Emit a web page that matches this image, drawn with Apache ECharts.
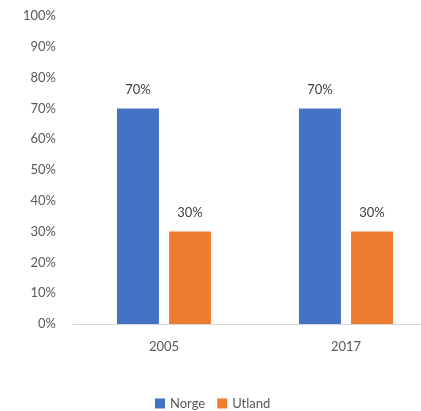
<!DOCTYPE html>
<html>
<head>
<meta charset="utf-8">
<script src="https://cdn.jsdelivr.net/npm/echarts@6/dist/echarts.min.js"></script>
<style>
  html, body { margin: 0; padding: 0; background: #fff; overflow: hidden; width: 421px; height: 411px; }
  #chart1 { width: 437px; height: 411px; }
</style>
</head>
<body>
<div id="chart1"></div>
<script>
const categories = ['2005', '2017'];
const norge = [70, 70];
const utland = [30, 30];
const colors = ['#4472C4', '#ED7D31'];

// the plot runs past the right edge of the picture, so the canvas is wider and clipped
var chartDom = document.getElementById('chart1');
var myChart1 = echarts.init(chartDom);

var labelStyle = {
    show: true,
    position: 'top',
    distance: 12,
    color: '#404040',
    fontSize: 13,
    fontFamily: 'Lato',
    formatter: function (p) {
        return p.value + '%';
    }
};

var option = {
    color: colors,
    animation: false,
    textStyle: { fontFamily: 'Lato' },
    legend: {
        data: ['Norge', 'Utland'],
        bottom: -4,
        left: 150,
        itemWidth: 10,
        itemHeight: 10,
        itemGap: 12,
        icon: 'rect',
        textStyle: { color: '#595959', fontSize: 13, fontFamily: 'Lato' }
    },
    grid: {
        left: 73,
        top: 16,
        right: 0,
        height: 308,
        containLabel: false
    },
    xAxis: {
        type: 'category',
        data: categories,
        axisLine: { show: true, lineStyle: { color: '#D9D9D9', width: 1 } },
        axisTick: { show: false },
        axisLabel: { color: '#595959', fontSize: 13, margin: 16, fontFamily: 'Lato' }
    },
    yAxis: {
        type: 'value',
        min: 0,
        max: 100,
        interval: 10,
        axisLine: { show: false },
        axisTick: { show: false },
        splitLine: { show: false },
        axisLabel: {
            color: '#595959',
            fontSize: 13,
            margin: 17,
            fontFamily: 'Lato',
            formatter: '{value}%'
        }
    },
    series: [
        {
            name: 'Norge',
            type: 'bar',
            barWidth: 42,
            barGap: '24%',
            data: norge,
            label: labelStyle
        },
        {
            name: 'Utland',
            type: 'bar',
            barWidth: 42,
            barGap: '24%',
            data: utland,
            label: labelStyle
        }
    ]
};
myChart1.setOption(option);
</script>
</body>
</html>
